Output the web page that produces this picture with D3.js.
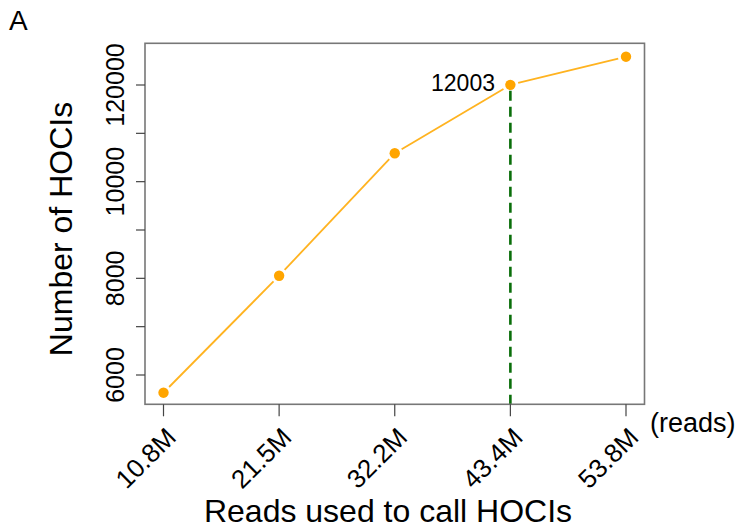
<!DOCTYPE html>
<html><head><meta charset="utf-8">
<script src="https://cdn.jsdelivr.net/npm/d3@7"></script>
<style>body{margin:0;background:#fff}svg{display:block}text{font-family:"Liberation Sans",Arial,sans-serif}</style>
</head><body><svg id="c" width="735" height="531"></svg>
<script>
const categories = ["10.8M","21.5M","32.2M","43.4M","53.8M"];
const values = [5634, 8054, 10588, 12003, 12586];
const yTicks = [6000, 7000, 8000, 9000, 10000, 11000, 12000];
const yTickLabels = {6000:"6000", 8000:"8000", 10000:"10000", 12000:"120000"};
const highlightIndex = 3;
const highlightLabel = "12003";

const svg = d3.select("#c");
const L=145, R=644.5, T=43.3, B=404.3;
const x = d3.scaleLinear().domain([0.84, 5.16]).range([L, R]);
const y = d3.scaleLinear().domain([6000, 12000]).range([375, 85]);

// dashed green line
svg.append("line")
  .attr("x1", x(highlightIndex+1)).attr("x2", x(highlightIndex+1))
  .attr("y1", y(values[highlightIndex]) + 6).attr("y2", B)
  .attr("stroke", "#0a6e0a").attr("stroke-width", 2.6).attr("stroke-dasharray", "10,6");

// line segments with gaps (type b)
const pts = values.map((v,i)=>[x(i+1), y(v)]);
const gap = 8;
for (let i=0;i<pts.length-1;i++){
  const [x1,y1]=pts[i],[x2,y2]=pts[i+1];
  const dx=x2-x1, dy=y2-y1, len=Math.hypot(dx,dy);
  const ux=dx/len, uy=dy/len;
  svg.append("line")
    .attr("x1", x1+ux*gap).attr("y1", y1+uy*gap)
    .attr("x2", x2-ux*gap).attr("y2", y2-uy*gap)
    .attr("stroke", "#ffb320").attr("stroke-width", 1.8);
}
svg.selectAll("circle.p").data(values).join("circle")
  .attr("cx", (d,i)=>x(i+1)).attr("cy", d=>y(d)).attr("r", 5.2).attr("fill", "#ffa500");

// box
svg.append("rect").attr("x", L).attr("y", T).attr("width", R-L).attr("height", B-T)
  .attr("fill", "none").attr("stroke", "#777").attr("stroke-width", 1.6);

// y axis ticks
const yAxis = svg.append("g");
yTicks.forEach(t=>{
  yAxis.append("line").attr("x1", L-9).attr("x2", L).attr("y1", y(t)).attr("y2", y(t))
    .attr("stroke", "#444").attr("stroke-width", 1.2);
  if (yTickLabels[t]) {
    yAxis.append("text").attr("transform", `translate(124,${y(t)}) rotate(-90)`)
      .attr("text-anchor", "middle").attr("font-size", 25).attr("fill", "#000").text(yTickLabels[t]);
  }
});

// x axis ticks
categories.forEach((c,i)=>{
  const xx = x(i+1);
  svg.append("line").attr("x1", xx).attr("x2", xx).attr("y1", B).attr("y2", B+12)
    .attr("stroke", "#444").attr("stroke-width", 1.2);
  svg.append("text").attr("transform", `translate(${xx+14},439) rotate(-45)`)
    .attr("text-anchor", "end").attr("font-size", 26).attr("fill", "#000").text(c);
});
svg.append("text").attr("x", 650).attr("y", 432).attr("font-size", 27).attr("fill", "#000").text("(reads)");

// annotation label
svg.append("text").attr("x", 495).attr("y", 91)
  .attr("text-anchor", "end").attr("font-size", 23).attr("fill", "#000").text(highlightLabel);

// titles
svg.append("text").attr("x", 388).attr("y", 522).attr("text-anchor", "middle")
  .attr("font-size", 32).attr("fill", "#000").text("Reads used to call HOCIs");
svg.append("text").attr("transform", `translate(72,229) rotate(-90)`).attr("text-anchor", "middle")
  .attr("font-size", 32).attr("fill", "#000").text("Number of HOCIs");
svg.append("text").attr("x", 9).attr("y", 30).attr("font-size", 28).attr("fill", "#000").text("A");
</script></body></html>
